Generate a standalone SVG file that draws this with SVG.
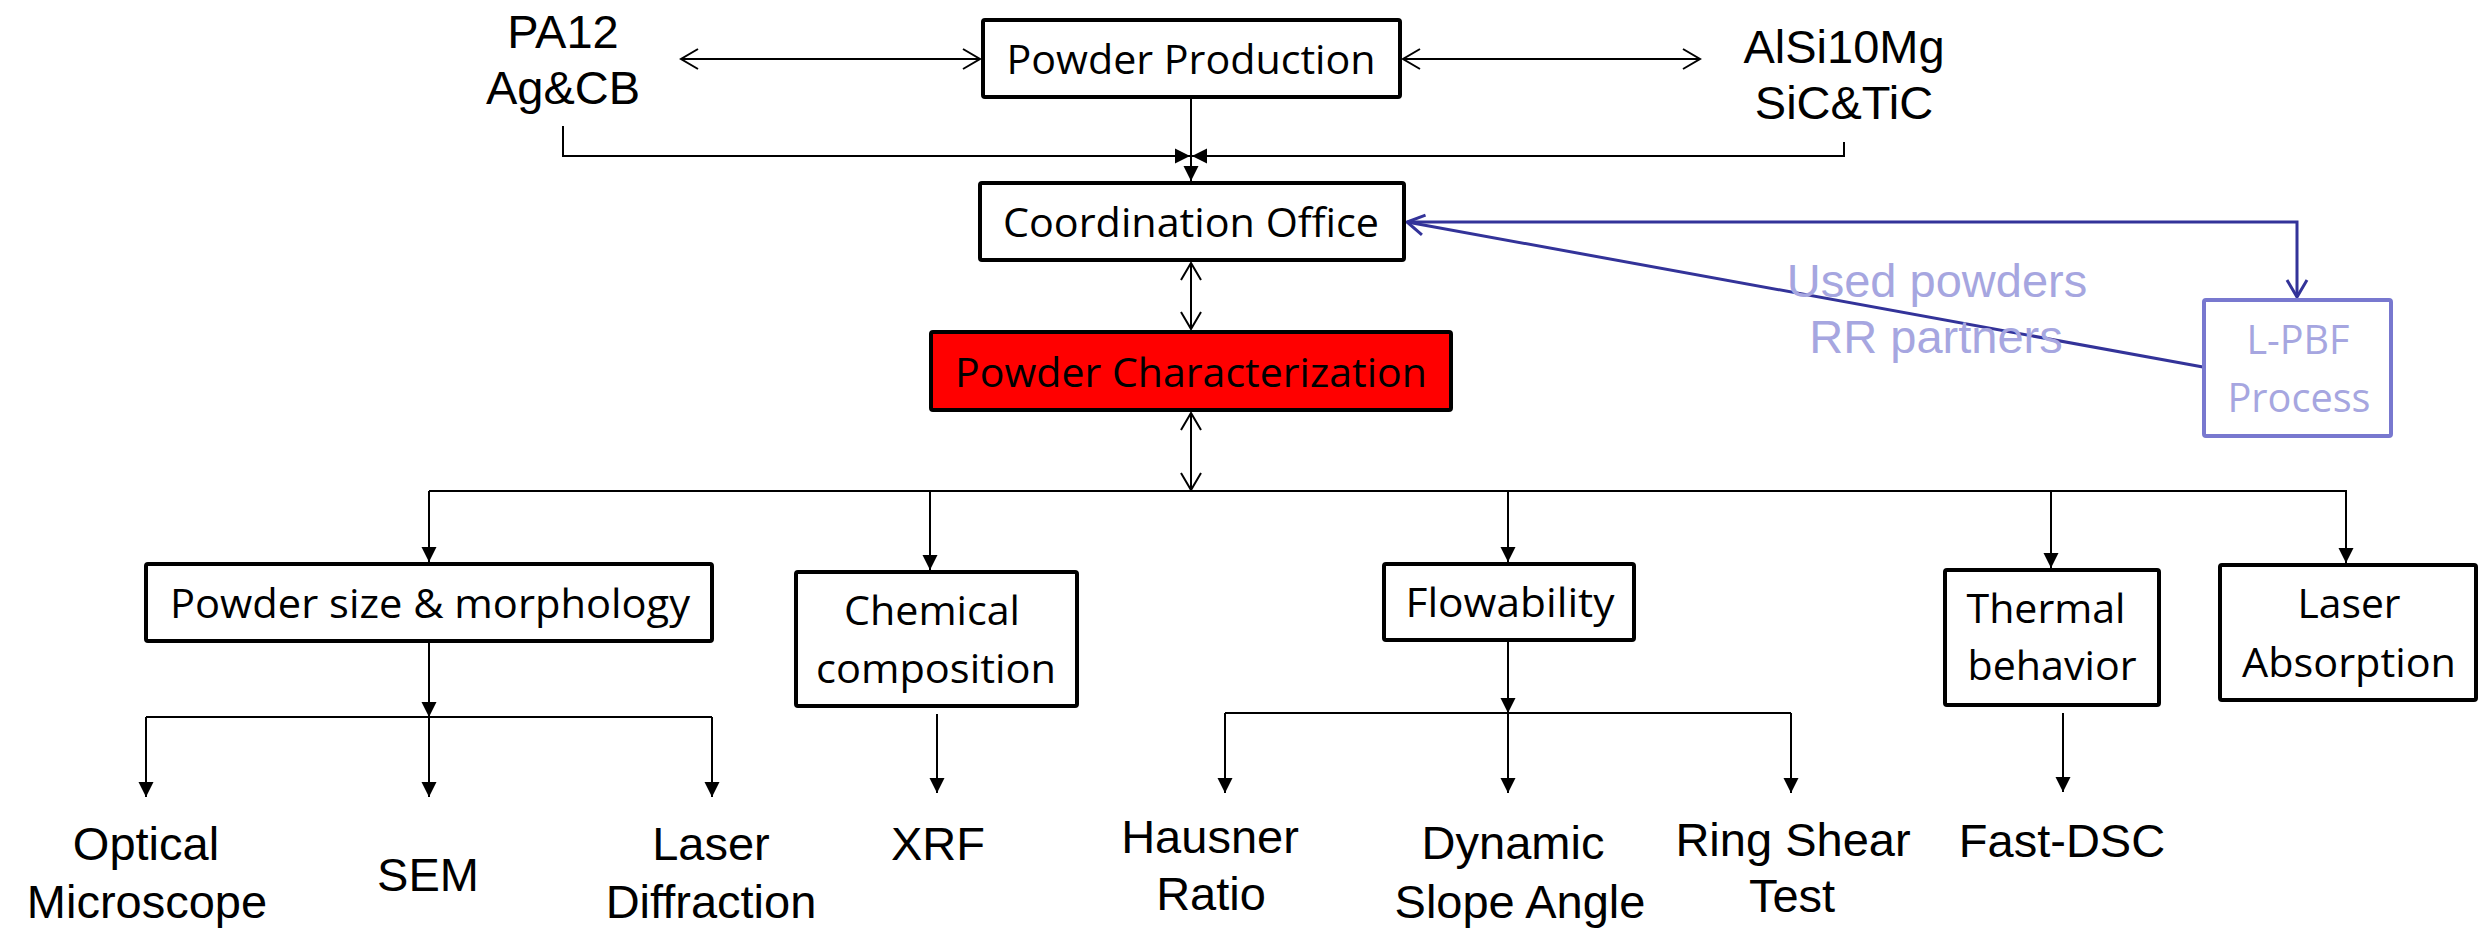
<svg xmlns="http://www.w3.org/2000/svg" width="2488" height="928" viewBox="0 0 2488 928">
<style>
.box{fill:#fff;stroke:#000;stroke-width:4}
.bt{font-family:"Open Sans","Noto Sans",sans-serif;font-size:41px;fill:#000;text-anchor:middle}
.lt{font-family:"Liberation Sans",Arial,sans-serif;font-size:47px;fill:#000;text-anchor:middle}
.ln{fill:none;stroke:#000;stroke-width:2}
.bl{fill:none;stroke:#333399;stroke-width:3}
.lp{fill:#a6a6e0}
</style>
<defs>
<marker id="fa" markerUnits="userSpaceOnUse" viewBox="0 0 16 16" markerWidth="16" markerHeight="16" refX="15" refY="8" orient="auto"><path d="M0,0.5 L15,8 L0,15.5 z" fill="#000"/></marker>
<marker id="oa" markerUnits="userSpaceOnUse" viewBox="-2 -12 24 24" markerWidth="24" markerHeight="24" refX="18" refY="0" orient="auto-start-reverse"><path d="M1,-10 L18,0 L1,10" fill="none" stroke="#000" stroke-width="2"/></marker>
<marker id="ob" markerUnits="userSpaceOnUse" viewBox="-2 -12 24 24" markerWidth="24" markerHeight="24" refX="18" refY="0" orient="auto"><path d="M1,-10 L18,0 L1,10" fill="none" stroke="#333399" stroke-width="3"/></marker>
</defs>
<rect width="2488" height="928" fill="#fff"/>
<g id="connectors">
<line class="ln" x1="681" y1="59" x2="980" y2="59" marker-start="url(#oa)" marker-end="url(#oa)"/>
<line class="ln" x1="1403" y1="59" x2="1700" y2="59" marker-start="url(#oa)" marker-end="url(#oa)"/>
<line class="ln" x1="1191" y1="99" x2="1191" y2="181" marker-end="url(#fa)"/>
<polyline class="ln" points="563,126 563,156 1190,156" marker-end="url(#fa)"/>
<polyline class="ln" points="1844,142 1844,156 1192,156" marker-end="url(#fa)"/>
<line class="ln" x1="1191" y1="263" x2="1191" y2="329" marker-start="url(#oa)" marker-end="url(#oa)"/>
<line class="ln" x1="1191" y1="413" x2="1191" y2="490" marker-start="url(#oa)" marker-end="url(#oa)"/>
<line class="ln" x1="429" y1="491" x2="2347" y2="491"/>
<line class="ln" x1="429" y1="491" x2="429" y2="562" marker-end="url(#fa)"/>
<line class="ln" x1="930" y1="491" x2="930" y2="570" marker-end="url(#fa)"/>
<line class="ln" x1="1508" y1="491" x2="1508" y2="562" marker-end="url(#fa)"/>
<line class="ln" x1="2051" y1="491" x2="2051" y2="568" marker-end="url(#fa)"/>
<line class="ln" x1="2346" y1="491" x2="2346" y2="563" marker-end="url(#fa)"/>
<line class="ln" x1="429" y1="643" x2="429" y2="717" marker-end="url(#fa)"/>
<line class="ln" x1="146" y1="717" x2="712" y2="717"/>
<line class="ln" x1="146" y1="717" x2="146" y2="797" marker-end="url(#fa)"/>
<line class="ln" x1="429" y1="717" x2="429" y2="797" marker-end="url(#fa)"/>
<line class="ln" x1="712" y1="717" x2="712" y2="797" marker-end="url(#fa)"/>
<line class="ln" x1="937" y1="714" x2="937" y2="793" marker-end="url(#fa)"/>
<line class="ln" x1="1508" y1="642" x2="1508" y2="713" marker-end="url(#fa)"/>
<line class="ln" x1="1225" y1="713" x2="1791" y2="713"/>
<line class="ln" x1="1225" y1="713" x2="1225" y2="793" marker-end="url(#fa)"/>
<line class="ln" x1="1508" y1="713" x2="1508" y2="793" marker-end="url(#fa)"/>
<line class="ln" x1="1791" y1="713" x2="1791" y2="793" marker-end="url(#fa)"/>
<line class="ln" x1="2063" y1="713" x2="2063" y2="792" marker-end="url(#fa)"/>
<polyline class="bl" points="1408,222 2297,222 2297,297" marker-end="url(#ob)"/>
<line class="bl" x1="2203" y1="367" x2="1407" y2="222" marker-end="url(#ob)"/>
</g>
<g id="pa12"><text class="lt" x="563" y="48">PA12</text><text class="lt" x="563" y="104">Ag&amp;CB</text></g>
<g id="alsi"><text class="lt" x="1844" y="63">AlSi10Mg</text><text class="lt" x="1844" y="119">SiC&amp;TiC</text></g>
<g id="powder-production"><rect class="box" x="983" y="20" width="417" height="77" rx="2"/><text class="bt" x="1191" y="74" textLength="369" lengthAdjust="spacingAndGlyphs">Powder Production</text></g>
<g id="coordination-office"><rect class="box" x="980" y="183" width="424" height="77" rx="2"/><text class="bt" x="1191" y="237" textLength="376" lengthAdjust="spacingAndGlyphs">Coordination Office</text></g>
<g id="used-powders"><text class="lt lp" x="1937" y="297">Used powders</text><text class="lt lp" x="1936" y="353">RR partners</text></g>
<g id="lpbf"><rect x="2204" y="300" width="187" height="136" rx="2" fill="#fff" stroke="#7878cf" stroke-width="4"/><text class="bt lp" x="2298" y="354" textLength="103" lengthAdjust="spacingAndGlyphs">L-PBF</text><text class="bt lp" x="2299" y="412" textLength="143" lengthAdjust="spacingAndGlyphs">Process</text></g>
<g id="powder-characterization"><rect class="box" x="931" y="332" width="520" height="78" rx="2" style="fill:#ff0000"/><text class="bt" x="1191" y="387" textLength="472" lengthAdjust="spacingAndGlyphs">Powder Characterization</text></g>
<g id="powder-size"><rect class="box" x="146" y="564" width="566" height="77" rx="2"/><text class="bt" x="430" y="618" textLength="520" lengthAdjust="spacingAndGlyphs">Powder size &amp; morphology</text></g>
<g id="chemical"><rect class="box" x="796" y="572" width="281" height="134" rx="2"/><text class="bt" x="932" y="625" textLength="176" lengthAdjust="spacingAndGlyphs">Chemical</text><text class="bt" x="936" y="683" textLength="240" lengthAdjust="spacingAndGlyphs">composition</text></g>
<g id="flowability"><rect class="box" x="1384" y="564" width="250" height="76" rx="2"/><text class="bt" x="1510" y="617" textLength="209" lengthAdjust="spacingAndGlyphs">Flowability</text></g>
<g id="thermal"><rect class="box" x="1945" y="570" width="214" height="135" rx="2"/><text class="bt" x="2046" y="623" textLength="159" lengthAdjust="spacingAndGlyphs">Thermal</text><text class="bt" x="2052" y="680" textLength="169" lengthAdjust="spacingAndGlyphs">behavior</text></g>
<g id="laser-absorption"><rect class="box" x="2220" y="565" width="256" height="135" rx="2"/><text class="bt" x="2349" y="618" textLength="103" lengthAdjust="spacingAndGlyphs">Laser</text><text class="bt" x="2349" y="677" textLength="214" lengthAdjust="spacingAndGlyphs">Absorption</text></g>
<g id="optical"><text class="lt" x="146" y="860">Optical</text><text class="lt" x="147" y="918">Microscope</text></g>
<g id="sem"><text class="lt" x="428" y="891">SEM</text></g>
<g id="laser-diffraction"><text class="lt" x="711" y="860">Laser</text><text class="lt" x="711" y="918">Diffraction</text></g>
<g id="xrf"><text class="lt" x="938" y="860">XRF</text></g>
<g id="hausner"><text class="lt" x="1210" y="853">Hausner</text><text class="lt" x="1211" y="910">Ratio</text></g>
<g id="dynamic"><text class="lt" x="1513" y="859">Dynamic</text><text class="lt" x="1520" y="918">Slope Angle</text></g>
<g id="ring-shear"><text class="lt" x="1793" y="856">Ring Shear</text><text class="lt" x="1792" y="912">Test</text></g>
<g id="fast-dsc"><text class="lt" x="2062" y="857">Fast-DSC</text></g>
</svg>
